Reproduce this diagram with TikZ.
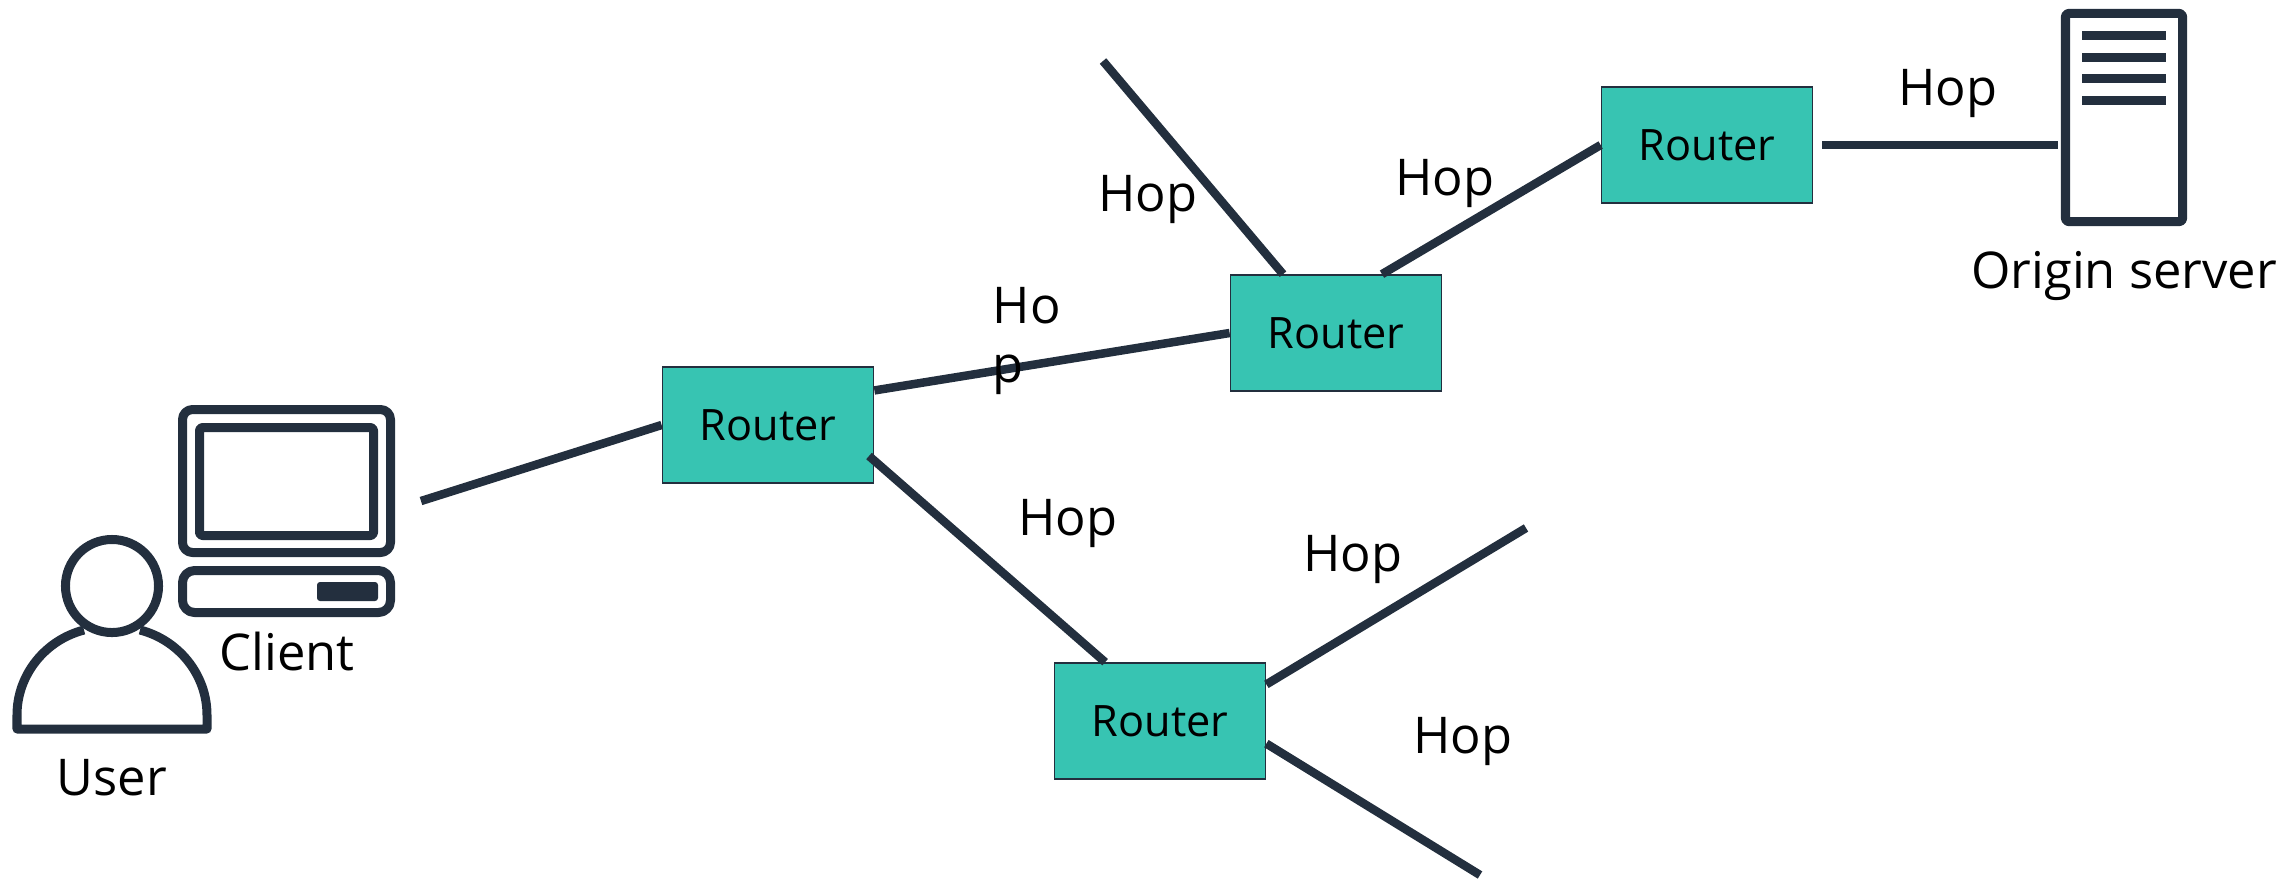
\documentclass[tikz,border=0pt]{standalone}
\usepackage{fontspec}
\setmainfont{Open Sans}
\definecolor{linkcol}{HTML}{232F3E}
\definecolor{routercol}{HTML}{37C4B2}
\tikzset{
    link/.style={draw=linkcol, line width=0.085cm},
    icon/.style={draw=linkcol, line width=0.09cm, line join=round},
    routerbox/.style={draw=linkcol, fill=routercol, line width=0.016cm, inner sep=0pt,
                      minimum width=2.11cm, minimum height=1.16cm, font=\fontsize{12.3}{15}\selectfont},
    biglabel/.style={anchor=base, inner sep=0pt, font=\fontsize{14.4}{16.7}\selectfont}
}
\begin{document}
\begin{tikzpicture}[x=0.01cm, y=-0.01cm]
    \useasboundingbox (0,0) rectangle (2279,878);

    \foreach \n/ \x/ \y in {one/768/425, two/1336/333, three/1707/145, four/1160/721}
        \node[routerbox] (r\n) at (\x,\y) {Router};

    % client
    \node[inner sep=0pt, minimum width=2.17cm, minimum height=1.52cm] (client) at (286.5,481) {};
    \path[icon, rounded corners=0.1cm] (182.5,409.5) rectangle (390.5,552.5);
    \path[icon, rounded corners=0.03cm] (199.5,427.5) rectangle (373.5,535.5);
    \path[icon, rounded corners=0.12cm] (182.5,570.5) rectangle (390.5,612.5);
    \path[fill=linkcol, rounded corners=0.03cm] (317,582) rectangle (378,601);

    % user
    \path[icon] (84,630) .. controls (45,640) and (17,675) .. (17,715) -- (17,729) -- (207,729)
        -- (207,715) .. controls (207,675) and (179,640) .. (140,630);
    \path[icon] (112,586) circle (0.465cm);

    % server
    \node[icon, inner sep=0pt, rounded corners=0.03cm, minimum width=1.17cm, minimum height=2.08cm] (server) at (2124,117.5) {};
    \foreach \y in {35,57,78,100}
        \path[draw=linkcol, line width=0.09cm] (2082,\y) -- (2166,\y);

    % free ends
    \coordinate (cend) at (421,501);
    \coordinate (rsw) at (869,456);
    \coordinate (topend) at (1103,61);
    \coordinate (upend) at (1526,528);
    \coordinate (downend) at (1480,875);

    \path[link] (cend) -- (rone.west);
    \path[link] (rone.18) -- (rtwo.west);
    \path[link] (rsw) -- (rfour.133);
    \path[link] (rtwo.132) -- (topend);
    \path[link] (rtwo.52) -- (rthree.west);
    \path[link, shorten <=0.09cm, shorten >=0.03cm] (rthree.east) -- (server.west |- rthree.east);
    \path[link] (rfour.19) -- (upend);
    \path[link] (rfour.-12) -- (downend);

    \foreach \n/ \x/ \y in {a/1948/105, b/1148/211, c/1445/195, d/1068/535, e/1353/571, f/1463/753}
        \node[biglabel] (hop\n) at (\x,\y) {Hop};
    \node[biglabel, anchor=base west, align=left] (hopg) at (992,382) {Ho\\p};

    \node[biglabel] (clientlabel) at (287,670) {Client};
    \node[biglabel] (userlabel) at (112,795) {User};
    \node[biglabel] (serverlabel) at (2124,288) {Origin server};

\end{tikzpicture}
\end{document}
